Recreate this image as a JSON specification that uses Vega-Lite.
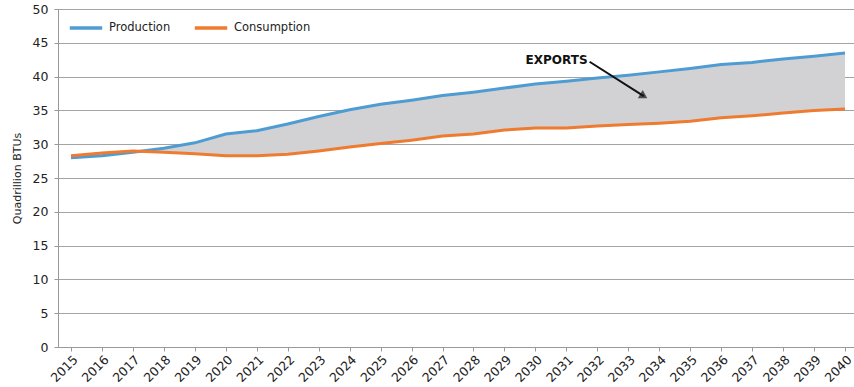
{
  "$schema": "https://vega.github.io/schema/vega-lite/v6.json",
  "width": 796,
  "height": 338,
  "autosize": {"type": "none"},
  "padding": {"left": 58, "top": 9, "right": 0, "bottom": 40},
  "background": "white",
  "config": {
    "font": "DejaVu Sans",
    "view": {"stroke": null},
    "axis": {"labelColor": "#222", "titleColor": "#222", "domainColor": "#999", "tickColor": "#999", "gridColor": "#a3a3a3"}
  },
  "datasets": {
    "energy": [
      {"year": 2015, "Production": 28.0, "Consumption": 28.3},
      {"year": 2016, "Production": 28.3, "Consumption": 28.7},
      {"year": 2017, "Production": 28.8, "Consumption": 29.0},
      {"year": 2018, "Production": 29.4, "Consumption": 28.8},
      {"year": 2019, "Production": 30.2, "Consumption": 28.6},
      {"year": 2020, "Production": 31.5, "Consumption": 28.3},
      {"year": 2021, "Production": 32.0, "Consumption": 28.3},
      {"year": 2022, "Production": 33.0, "Consumption": 28.5},
      {"year": 2023, "Production": 34.1, "Consumption": 29.0},
      {"year": 2024, "Production": 35.1, "Consumption": 29.6},
      {"year": 2025, "Production": 35.9, "Consumption": 30.1},
      {"year": 2026, "Production": 36.5, "Consumption": 30.6},
      {"year": 2027, "Production": 37.2, "Consumption": 31.2},
      {"year": 2028, "Production": 37.7, "Consumption": 31.5},
      {"year": 2029, "Production": 38.3, "Consumption": 32.1},
      {"year": 2030, "Production": 38.9, "Consumption": 32.4},
      {"year": 2031, "Production": 39.3, "Consumption": 32.4},
      {"year": 2032, "Production": 39.8, "Consumption": 32.7},
      {"year": 2033, "Production": 40.2, "Consumption": 32.9},
      {"year": 2034, "Production": 40.7, "Consumption": 33.1},
      {"year": 2035, "Production": 41.2, "Consumption": 33.4},
      {"year": 2036, "Production": 41.8, "Consumption": 33.9},
      {"year": 2037, "Production": 42.1, "Consumption": 34.2},
      {"year": 2038, "Production": 42.6, "Consumption": 34.6},
      {"year": 2039, "Production": 43.0, "Consumption": 35.0},
      {"year": 2040, "Production": 43.5, "Consumption": 35.2}
    ],
    "arrow": [
      {"x1": 2031.75, "y1": 42.2, "x2": 2033.5, "y2": 37.1, "label": "EXPORTS"}
    ]
  },
  "encoding": {
    "x": {
      "field": "year", "type": "quantitative",
      "scale": {"domain": [2014.58, 2040.29], "nice": false, "zero": false},
      "axis": {
        "title": null, "values": [2015,2016,2017,2018,2019,2020,2021,2022,2023,2024,2025,2026,2027,2028,2029,2030,2031,2032,2033,2034,2035,2036,2037,2038,2039,2040],
        "format": "d", "labelAngle": -45, "labelAlign": "right", "labelBaseline": "top",
        "labelFontSize": 12.5, "labelFontWeight": 500, "grid": false, "tickSize": 4, "labelPadding": 2, "labelOverlap": false, "labelFlush": false
      }
    },
    "y": {
      "field": "value", "type": "quantitative",
      "scale": {"domain": [0, 50], "nice": false},
      "axis": {
        "title": "Quadrillion BTUs", "titleFontSize": 11, "titleFontWeight": "normal", "titlePadding": 10,
        "values": [0,5,10,15,20,25,30,35,40,45,50], "labelFontSize": 12.5, "tickSize": 4, "labelPadding": 6,
        "labelOverlap": false, "labelFlush": false,
        "grid": true, "gridWidth": 1.2
      }
    }
  },
  "layer": [
    {
      "data": {"name": "energy"},
      "mark": {"type": "area", "color": "#d2d2d4"},
      "encoding": {
        "y": {"field": "Production", "type": "quantitative"},
        "y2": {"field": "Consumption"}
      }
    },
    {
      "data": {"name": "energy"},
      "transform": [{"fold": ["Production", "Consumption"], "as": ["series", "value"]}],
      "mark": {"type": "line", "strokeWidth": 3},
      "encoding": {
        "color": {
          "field": "series", "type": "nominal",
          "scale": {"domain": ["Production", "Consumption"], "range": ["#4f9cd3", "#ee7b30"]},
          "legend": {
            "title": null, "orient": "none", "legendX": 10, "legendY": 1, "direction": "horizontal",
            "symbolType": "stroke", "symbolSize": 1050, "symbolStrokeWidth": 3.5,
            "labelFontSize": 11.5, "labelFontWeight": 500, "labelColor": "#222", "labelOffset": 5, "columnPadding": 16, "padding": 0
          }
        }
      }
    },
    {
      "data": {"name": "arrow"},
      "mark": {"type": "rule", "color": "#111", "strokeWidth": 2},
      "encoding": {
        "x": {"field": "x1", "type": "quantitative"},
        "y": {"field": "y1", "type": "quantitative"},
        "x2": {"field": "x2"},
        "y2": {"field": "y2"}
      }
    },
    {
      "data": {"name": "arrow"},
      "mark": {"type": "point", "shape": "triangle-right", "filled": true, "color": "#111", "size": 90, "angle": 31},
      "encoding": {
        "x": {"field": "x2", "type": "quantitative"},
        "y": {"field": "y2", "type": "quantitative"}
      }
    },
    {
      "data": {"name": "arrow"},
      "mark": {"type": "text", "align": "right", "baseline": "middle", "fontSize": 12, "fontWeight": "bold", "color": "#111", "dx": -2, "dy": -2},
      "encoding": {
        "x": {"field": "x1", "type": "quantitative"},
        "y": {"field": "y1", "type": "quantitative"},
        "text": {"field": "label"}
      }
    }
  ]
}
